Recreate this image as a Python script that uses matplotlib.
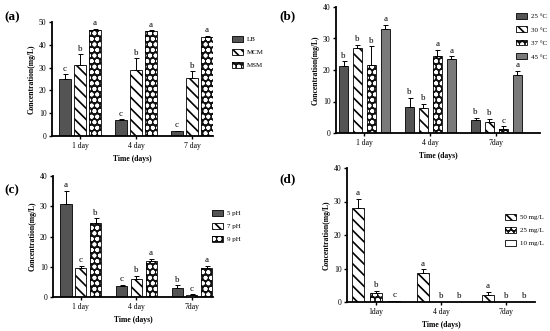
import matplotlib
matplotlib.use("Agg")
import matplotlib.pyplot as plt
from matplotlib.legend_handler import HandlerTuple
from matplotlib.patches import Patch
import numpy as np

plt.rcParams['font.family'] = ['Liberation Serif', 'DejaVu Serif']
plt.rcParams['hatch.linewidth'] = 1.2

W, H = 550, 331

# ---------------- data ----------------
groups_a = ["1 day", "4 day", "7 day"]
series_a = ["LB", "MCM", "MSM"]
vals_a = [[25, 7, 2], [31, 29, 25.5], [46.5, 46, 43.5]]
errs_a = [[2, 0.5, 0.3], [5, 5, 3], [0.5, 0.5, 0.5]]
lets_a = [["c", "c", "c"], ["b", "b", "b"], ["a", "a", "a"]]

groups_b = ["1 day", "4 day", "7day"]
series_b = ["25 °C", "30 °C", "37 °C", "45 °C"]
vals_b = [[21.2, 8.2, 4.1], [27, 8, 3.6], [21.6, 24.5, 1.3], [33, 23.5, 18.5]]
errs_b = [[1.5, 3, 0.8], [1, 1.3, 1], [6, 2, 0.8], [1.3, 0.8, 1.2]]
lets_b = [["b", "b", "b"], ["b", "b", "b"], ["b", "a", "c"], ["a", "a", "a"]]

groups_c = ["1 day", "4 day", "7day"]
series_c = ["5 pH", "7 pH", "9 pH"]
vals_c = [[30.7, 3.5, 3], [9.5, 6, 0.7], [24.5, 11.8, 9.6]]
errs_c = [[4.5, 0.5, 0.9], [0.8, 1, 0.3], [1.6, 0.9, 0.8]]
lets_c = [["a", "c", "b"], ["c", "b", "c"], ["b", "a", "a"]]

groups_d = ["1day", "4 day", "7day"]
series_d = ["50 mg/L", "25 mg/L", "10 mg/L"]
vals_d = [[28.2, 8.6, 2.2], [2.6, 0, 0], [0.3, 0, 0]]
errs_d = [[2.6, 1.2, 0.8], [0.7, 0, 0], [0.1, 0, 0]]
lets_d = [["a", "a", "a"], ["b", "b", "b"], ["c", "b", "b"]]

# ---------------- styles ----------------
DARK = dict(kind="solid", color="#545454")
GRAY = dict(kind="solid", color="#7a7a7a")
STRIPE = dict(kind="stripe")
DOTS = dict(kind="dots")
EMPTY = dict(kind="empty")

fig = plt.figure(figsize=(W / 100, H / 100), dpi=100)


def px_axes(l, t, r, b):
    return fig.add_axes([l / W, 1 - b / H, (r - l) / W, (b - t) / H])


def draw_bars(ax, x, vals, width, style):
    kind = style["kind"]
    if kind == "solid":
        ax.bar(x, vals, width, color=style["color"], edgecolor="black",
               linewidth=0.6, zorder=2)
        return Patch(facecolor=style["color"], edgecolor="black", linewidth=0.6)
    if kind == "stripe":
        ax.bar(x, vals, width, color="white", edgecolor="black",
               hatch="\\\\\\", linewidth=0.6, zorder=2)
        return Patch(facecolor="white", edgecolor="black", hatch="\\\\\\\\",
                     linewidth=0.6)
    if kind == "dots":
        ax.bar(x, vals, width, color="#111111", edgecolor="white",
               hatch="ooo", linewidth=0, zorder=2)
        ax.bar(x, vals, width, fill=False, edgecolor="black",
               linewidth=0.6, zorder=3)
        return (Patch(facecolor="#111111", edgecolor="white", hatch="ooo",
                      linewidth=0),
                Patch(fill=False, edgecolor="black", linewidth=0.6))
    ax.bar(x, vals, width, color="white", edgecolor="black",
           linewidth=0.6, zorder=2)
    return Patch(facecolor="white", edgecolor="black", linewidth=0.6)


def make_panel(box, groups, series, vals, errs, lets, styles, ylim, yticks,
               xlim, width, step, panel, panel_xy, leg_xy, leg_gap):
    ax = px_axes(*box)
    n = len(series)
    xg = np.arange(len(groups))
    handles = []
    for i in range(n):
        off = (i - (n - 1) / 2) * step
        x = xg + off
        v = np.array(vals[i], dtype=float)
        e = np.array(errs[i], dtype=float)
        handles.append(draw_bars(ax, x, v, width, styles[i]))
        mask = v > 0
        ax.errorbar(x[mask], v[mask], yerr=[np.zeros(mask.sum()), e[mask]],
                    fmt="none", ecolor="black", elinewidth=0.7, capsize=1.8,
                    capthick=0.7, zorder=4)
        for xi, vi, ei, li in zip(x, v, e, lets[i]):
            ax.text(xi, vi + ei + ylim[1] * 0.012, li, ha="center", va="bottom",
                    fontsize=6.5, zorder=5)
    ax.set_xlim(*xlim)
    ax.set_ylim(*ylim)
    ax.set_yticks(yticks)
    ax.set_xticks(xg)
    ax.set_xticklabels(groups)
    for s in ("top", "right"):
        ax.spines[s].set_visible(False)
    for s in ("left", "bottom"):
        ax.spines[s].set_linewidth(1.3)
    ax.tick_params(axis="both", labelsize=5.5, width=1.0, length=2.5, pad=1.5)
    ax.set_ylabel("Concentration(mg/L)", fontsize=5.5, fontweight="bold",
                  labelpad=2)
    ax.set_xlabel("Time (days)", fontsize=5.5, fontweight="bold", labelpad=4)
    fig.text(panel_xy[0] / W, 1 - panel_xy[1] / H, panel, fontsize=9.5,
             fontweight="bold", ha="left", va="center")
    ax.legend(handles=handles, labels=series, loc="upper left",
              bbox_to_anchor=(leg_xy[0] / W, 1 - leg_xy[1] / H),
              bbox_transform=fig.transFigure, frameon=False,
              fontsize=5, handlelength=1.6, handleheight=0.85,
              handletextpad=0.6, labelspacing=leg_gap, borderpad=0,
              borderaxespad=0, handler_map={tuple: HandlerTuple(ndivide=1, pad=0)})
    return ax


make_panel((52, 22, 213, 136), groups_a, series_a, vals_a, errs_a, lets_a,
           [DARK, STRIPE, DOTS], (0, 50), [0, 10, 20, 30, 40, 50],
           (-0.5, 2.375), 0.21, 0.27, "(a)", (4, 17), (232, 36), 1.0)

make_panel((336, 7, 540, 133), groups_b, series_b, vals_b, errs_b, lets_b,
           [DARK, STRIPE, DOTS, GRAY], (0, 40), [0, 10, 20, 30, 40],
           (-0.43, 2.66), 0.14, 0.21, "(b)", (279, 16), (516, 13), 1.05)

make_panel((53, 176, 213, 297), groups_c, series_c, vals_c, errs_c, lets_c,
           [DARK, STRIPE, DOTS], (0, 40), [0, 10, 20, 30, 40],
           (-0.5, 2.38), 0.2, 0.265, "(c)", (4, 190), (212, 210), 1.0)

make_panel((347, 168, 535, 302), groups_d, series_d, vals_d, errs_d, lets_d,
           [STRIPE, DOTS, EMPTY], (0, 40), [0, 10, 20, 30, 40],
           (-0.45, 2.45), 0.185, 0.28, "(d)", (279, 179), (505, 214), 1.0)

fig.savefig("out.png", dpi=100, facecolor="white")
